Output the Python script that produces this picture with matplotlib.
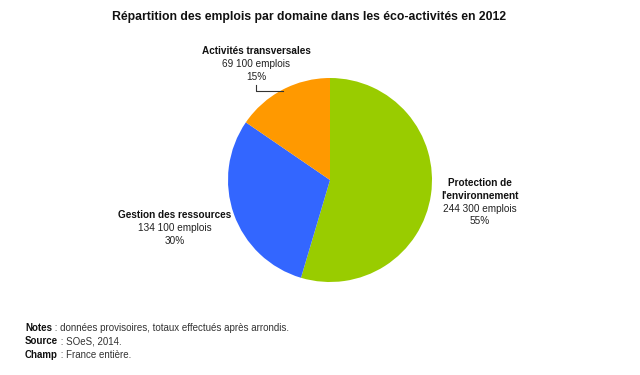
import matplotlib.pyplot as plt

plt.rcParams["font.family"] = ["Liberation Sans", "DejaVu Sans"]

TITLE = "Répartition des emplois par domaine dans les éco-activités en 2012"

DOMAINS = ["Protection de\nl'environnement", "Gestion des ressources", "Activités transversales"]
JOBS = [244300, 134100, 69100]
JOB_LABELS = ["244 300 emplois", "134 100 emplois", "69 100 emplois"]
SHARES = ["55%", "30%", "15%"]
COLORS = ["#99CC00", "#3366FF", "#FF9900"]

NOTES = [
    ("Notes", " : données provisoires, totaux effectués après arrondis."),
    ("Source", " : SOeS, 2014."),
    ("Champ", " : France entière."),
]

W, H = 640, 375

figure = plt.figure(figsize=(W / 100, H / 100), dpi=100)

# pie centred at (330, 180) px with radius 102 px
cx, cy, r = 330, 180, 102
axis = figure.add_axes([(cx - r) / W, 1 - (cy + r) / H, 2 * r / W, 2 * r / H])
axis.pie(JOBS, colors=COLORS, startangle=90, counterclock=False,
         wedgeprops={"linewidth": 0})
axis.set_xlim(-1, 1)
axis.set_ylim(-1, 1)
axis.set_aspect("auto")
axis.axis("off")


def px(x, y):
    return x / W, 1 - y / H


figure.text(*px(309, 17), TITLE, ha="center", va="center",
            fontsize=8.8, fontweight="bold", color="#111111")

# label blocks: (x centre, y of first line) in pixels
label_pos = [(480, 183), (175, 215), (256, 51)]
line_step = 12.8
for i, (lx, ly) in enumerate(label_pos):
    lines = DOMAINS[i].split("\n")
    y = ly
    for line in lines:
        figure.text(*px(lx, y), line, ha="center", va="center",
                    fontsize=7.2, fontweight="bold", color="#111111")
        y += line_step
    figure.text(*px(lx, y), JOB_LABELS[i], ha="center", va="center",
                fontsize=7.2, color="#222222")
    y += line_step
    figure.text(*px(lx, y), SHARES[i], ha="center", va="center",
                fontsize=7.2, color="#222222")

# leader line for the small slice
lxs = [256, 256, 283]
lys = [85, 91, 91]
figure.add_artist(plt.Line2D([x / W for x in lxs], [1 - y / H for y in lys],
                             transform=figure.transFigure, color="#333333",
                             linewidth=0.8))

renderer = figure.canvas.get_renderer()
for i, (bold, rest) in enumerate(NOTES):
    bx, by = px(25, 331 + i * 13.5)
    t = figure.text(bx, by, bold, ha="left", va="baseline",
                    fontsize=7, fontweight="bold", color="#111111")
    width = t.get_window_extent(renderer).width / W
    figure.text(bx + width, by, rest, ha="left", va="baseline",
                fontsize=7, color="#333333")

figure.savefig("out.png", dpi=100, facecolor="white")
